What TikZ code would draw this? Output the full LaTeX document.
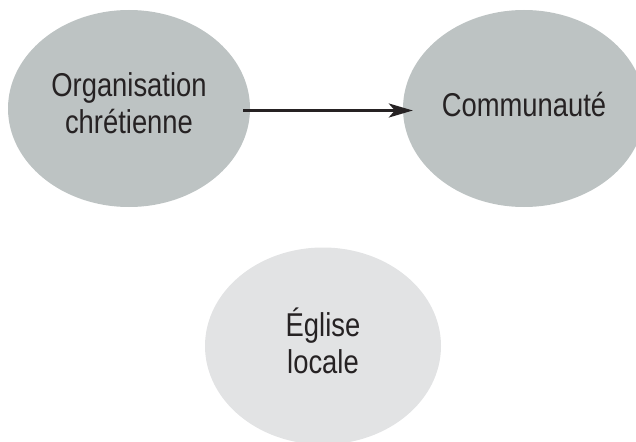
\documentclass[tikz,border=0pt]{standalone}
\usepackage{fontspec}
\setmainfont{Liberation Sans}[FakeStretch=0.83]
\usepackage{tikz}
\usetikzlibrary{shapes.geometric,arrows.meta}
\definecolor{bubble}{HTML}{BDC3C3}
\definecolor{bubblelight}{HTML}{E2E3E4}
\definecolor{ink}{HTML}{262223}

\begin{document}
\begin{tikzpicture}[x=1pt,y=-1pt,
    bulle/.style={ellipse, fill=bubble, minimum width=242pt, minimum height=197pt, inner sep=0pt},
    texte/.style={align=center, text=ink, font=\fontsize{33}{37}\selectfont, yshift=5pt},
    fleche/.style={-{Stealth[length=24pt,width=14pt,inset=6pt]}, line width=2.4pt, draw=ink}]
    \useasboundingbox (0,0) rectangle (636,441);
    \clip (0,0) rectangle (636,441);

    \node[bulle] (orga) at (129,108.5) {};
    \node[bulle] (comm) at (524,108.5) {};
    \node[bulle, fill=bubblelight, minimum width=236pt] (eglise) at (323,346) {};

    \node[texte] (orgatexte) at (orga) {Organisation\\chrétienne};
    \node[texte, yshift=-1pt] (commtexte) at (comm) {Communauté};
    \node[texte] (eglisetexte) at (eglise) {Église\\locale};

    \draw[fleche] ([xshift=-7pt,yshift=-2pt]orga.east) -- ([xshift=10pt,yshift=-2pt]comm.west);
  \end{tikzpicture}
\end{document}
